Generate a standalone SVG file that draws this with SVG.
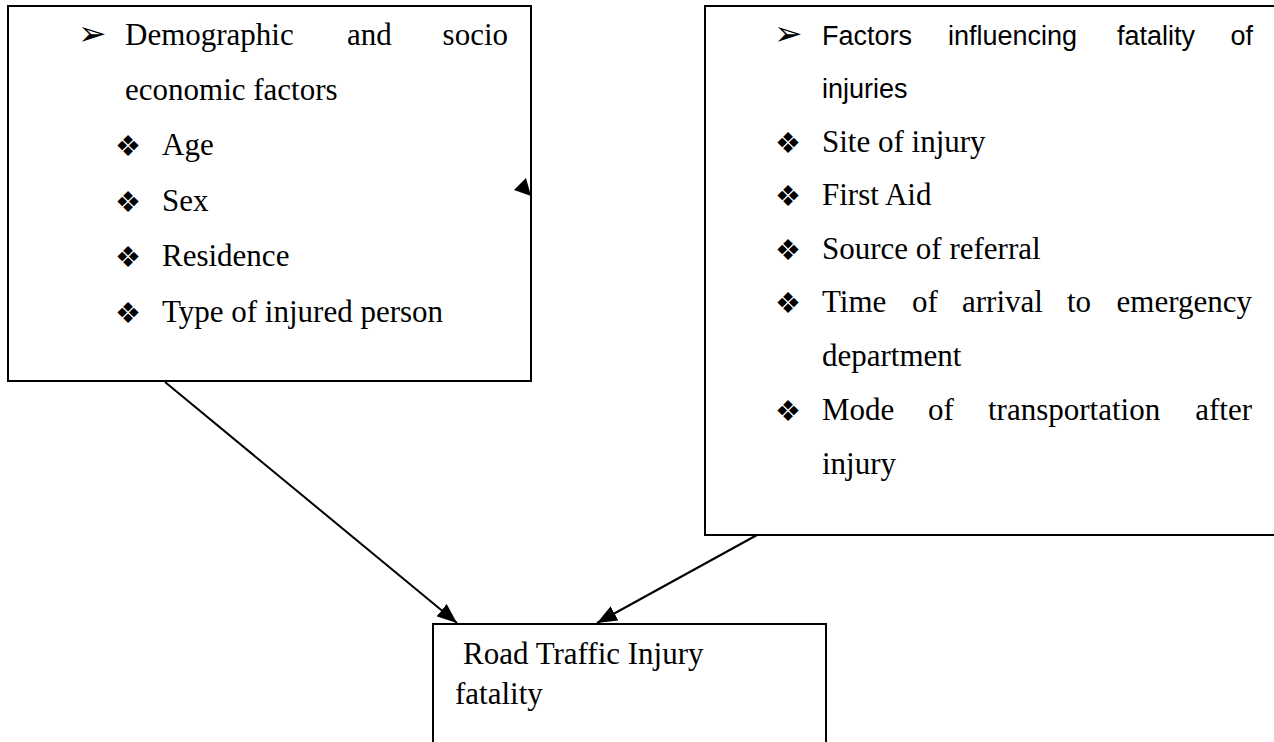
<svg xmlns="http://www.w3.org/2000/svg" width="1274" height="742" viewBox="0 0 1274 742">
<style>
.box{fill:#fff;stroke:#000;stroke-width:2}
.t{font-family:"Liberation Serif","Times New Roman",serif;font-size:31px;fill:#000}
.s{font-family:"Liberation Sans",Arial,sans-serif;font-size:27px;fill:#000}
.b{font-family:"DejaVu Sans",sans-serif;font-size:29px;fill:#000}
.a{font-family:"DejaVu Sans",sans-serif;font-size:34px;fill:#000}
.c{stroke:#000;stroke-width:2;fill:none}
</style>
<defs>
<marker id="ah" markerUnits="userSpaceOnUse" markerWidth="20" markerHeight="16" viewBox="0 0 20 16" refX="20" refY="8" orient="auto">
<path d="M0,0 L20,8 L0,16 z" fill="#000"/>
</marker>
</defs>
<rect width="1274" height="742" fill="#fff"/>
<g id="demographic">
<rect class="box" x="8" y="6" width="523" height="375"/>
<text class="a" x="78" y="45">➢</text>
<text class="t" x="125" y="45">Demographic</text>
<text class="t" x="347" y="45">and</text>
<text class="t" x="508" y="45" text-anchor="end">socio</text>
<text class="t" x="125" y="100">economic factors</text>
<text class="b" x="115" y="156">❖</text>
<text class="t" x="162" y="155">Age</text>
<text class="b" x="115" y="212">❖</text>
<text class="t" x="162" y="211">Sex</text>
<text class="b" x="115" y="267">❖</text>
<text class="t" x="162" y="266">Residence</text>
<text class="b" x="115" y="323">❖</text>
<text class="t" x="162" y="322">Type of injured person</text>
</g>
<g id="factors">
<rect class="box" x="705" y="6" width="580" height="529"/>
<text class="a" x="774" y="45">➢</text>
<text class="s" x="822" y="45">Factors</text>
<text class="s" x="948" y="45">influencing</text>
<text class="s" x="1117" y="45">fatality</text>
<text class="s" x="1253" y="45" text-anchor="end">of</text>
<text class="s" x="822" y="98">injuries</text>
<text class="b" x="775" y="153">❖</text>
<text class="t" x="822" y="152">Site of injury</text>
<text class="b" x="775" y="206">❖</text>
<text class="t" x="822" y="205">First Aid</text>
<text class="b" x="775" y="260">❖</text>
<text class="t" x="822" y="259">Source of referral</text>
<text class="b" x="775" y="313">❖</text>
<text class="t" x="822" y="312">Time</text>
<text class="t" x="912" y="312">of</text>
<text class="t" x="962" y="312">arrival</text>
<text class="t" x="1067" y="312">to</text>
<text class="t" x="1252" y="312" text-anchor="end">emergency</text>
<text class="t" x="822" y="366">department</text>
<text class="b" x="775" y="421">❖</text>
<text class="t" x="822" y="420">Mode</text>
<text class="t" x="928" y="420">of</text>
<text class="t" x="988" y="420">transportation</text>
<text class="t" x="1252" y="420" text-anchor="end">after</text>
<text class="t" x="822" y="474">injury</text>
</g>
<g id="fatality">
<rect class="box" x="433" y="624" width="393" height="140"/>
<text class="t" x="463" y="664">Road Traffic Injury</text>
<text class="t" x="455" y="704">fatality</text>
</g>
<g id="connectors">
<line class="c" x1="165" y1="382" x2="457" y2="623" marker-end="url(#ah)"/>
<line class="c" x1="757" y1="535" x2="597" y2="623" marker-end="url(#ah)"/>
<polygon points="514,190 526,178 531,196" fill="#000"/>
</g>
</svg>
